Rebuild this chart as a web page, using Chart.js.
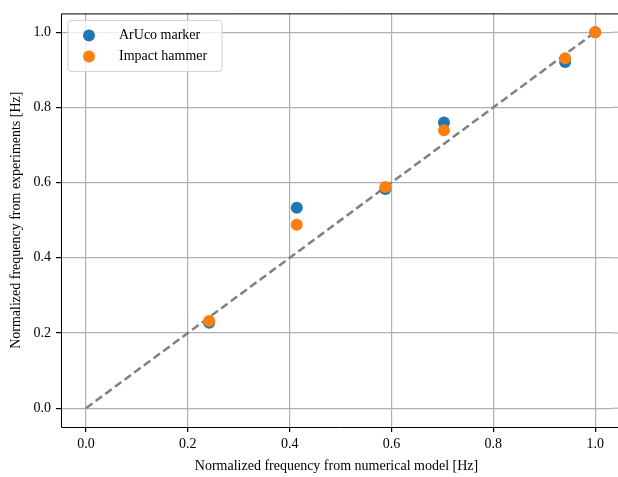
<!DOCTYPE html>
<html>
<head>
<meta charset="utf-8">
<script src="https://cdn.jsdelivr.net/npm/chart.js@4"></script>
<style>
  html, body { margin: 0; padding: 0; background: #fff; }
  #wrap { width: 618px; height: 477px; }
</style>
</head>
<body>
<div id="wrap"><canvas id="freqChart" width="618" height="477"></canvas></div>
<script>
// values
const modelFreq   = [0.242, 0.414, 0.588, 0.703, 0.941, 1.0];
const arucoFreq   = [0.227, 0.533, 0.583, 0.760, 0.921, 1.0];
const hammerFreq  = [0.232, 0.488, 0.588, 0.739, 0.931, 1.0];
const idealLine   = [0, 1];
const tickValues  = [0, 0.2, 0.4, 0.6, 0.8, 1.0];

const serif = "'Liberation Serif', 'DejaVu Serif', serif";

const toPoints = (xs, ys) => xs.map((x, i) => ({ x: x, y: ys[i] }));

// matplotlib-style frame (right side is cut off in the reference) + legend box
const framePlugin = {
  id: 'frame',
  beforeDatasetsDraw(chart) {
    // the figure is cropped on the right, so grid runs to the canvas edge
    const { ctx, chartArea: a, scales } = chart;
    ctx.save();
    ctx.strokeStyle = '#b0b0b0';
    ctx.lineWidth = 1.2;
    tickValues.forEach(v => {
      const y = scales.y.getPixelForValue(v);
      ctx.beginPath();
      ctx.moveTo(a.right, y);
      ctx.lineTo(chart.width, y);
      ctx.stroke();
    });
    ctx.restore();
  },
  afterDraw(chart) {
    const { ctx, chartArea: a } = chart;
    ctx.save();
    ctx.strokeStyle = '#000';
    ctx.lineWidth = 1;
    ctx.beginPath();
    ctx.moveTo(chart.width, a.top + 0.5);
    ctx.lineTo(a.left + 0.5, a.top + 0.5);
    ctx.lineTo(a.left + 0.5, a.bottom + 0.5);
    ctx.lineTo(chart.width, a.bottom + 0.5);
    ctx.stroke();

    // legend
    const x0 = a.left + 7, y0 = a.top + 7, w = 154, h = 51;
    ctx.fillStyle = 'rgba(255,255,255,0.8)';
    ctx.strokeStyle = '#d0d0d0';
    ctx.beginPath();
    ctx.roundRect(x0, y0, w, h, 3);
    ctx.fill();
    ctx.stroke();
    ctx.font = "14px " + serif;
    ctx.textBaseline = 'middle';
    chart.data.datasets.filter(d => d.type !== 'line').forEach((d, i) => {
      const cy = y0 + 15 + i * 21;
      ctx.fillStyle = d.backgroundColor;
      ctx.beginPath();
      ctx.arc(x0 + 21, cy, 6, 0, Math.PI * 2);
      ctx.fill();
      ctx.fillStyle = '#000';
      ctx.fillText(d.label, x0 + 51, cy);
    });
    ctx.restore();
  }
};

new Chart(document.getElementById('freqChart'), {
  type: 'scatter',
  data: {
    datasets: [
      {
        type: 'line',
        label: 'ideal',
        data: toPoints(idealLine, idealLine),
        borderColor: '#808080',
        borderWidth: 2.5,
        borderDash: [8, 4],
        pointRadius: 0,
        fill: false,
        order: 3
      },
      {
        label: 'ArUco marker',
        data: toPoints(modelFreq, arucoFreq),
        backgroundColor: '#1f77b4',
        borderWidth: 0,
        pointRadius: 6,
        order: 2
      },
      {
        label: 'Impact hammer',
        data: toPoints(modelFreq, hammerFreq),
        backgroundColor: '#ff7f0e',
        borderWidth: 0,
        pointRadius: 6,
        order: 1
      }
    ]
  },
  options: {
    responsive: false,
    animation: false,
    clip: false,
    layout: { padding: { top: 10, right: 0, left: 0, bottom: 0 } },
    plugins: {
      legend: { display: false },
      tooltip: { enabled: false }
    },
    scales: {
      x: {
        type: 'linear',
        min: -0.049,
        max: 1.033,
        afterBuildTicks: s => { s.ticks = tickValues.map(v => ({ value: v })); },
        afterFit: s => { s.height = 50; },
        ticks: {
          color: '#000',
          font: { family: serif, size: 14 },
          padding: 4,
          maxRotation: 0,
          callback: v => v.toFixed(1)
        },
        grid: { color: '#b0b0b0', lineWidth: 1.2, tickLength: 5, tickColor: '#000' },
        border: { display: false },
        title: {
          display: true,
          text: 'Normalized frequency from numerical model [Hz]',
          color: '#000',
          font: { family: serif, size: 14 },
          padding: { top: 0, bottom: 2 }
        }
      },
      y: {
        type: 'linear',
        min: -0.05,
        max: 1.05,
        afterBuildTicks: s => { s.ticks = tickValues.map(v => ({ value: v })); },
        afterFit: s => { s.width = 61; },
        ticks: {
          color: '#000',
          font: { family: serif, size: 14 },
          padding: 5,
          callback: v => v.toFixed(1)
        },
        grid: { color: '#b0b0b0', lineWidth: 1.2, tickLength: 5, tickColor: '#000' },
        border: { display: false },
        title: {
          display: true,
          text: 'Normalized frequency from experiments [Hz]',
          color: '#000',
          font: { family: serif, size: 14 },
          padding: { top: 8, bottom: 0 }
        }
      }
    }
  },
  plugins: [framePlugin]
});
</script>
</body>
</html>
